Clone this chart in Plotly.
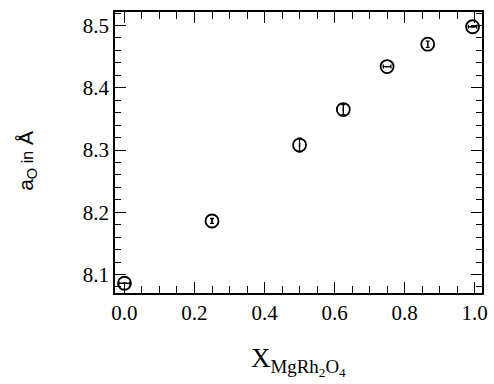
import plotly.graph_objects as go

x_mg = [0.0, 0.25, 0.5, 0.625, 0.75, 0.866, 0.994]
a0 = [8.086, 8.186, 8.308, 8.365, 8.434, 8.470, 8.498]
err_y = [0.0, 0.004, 0.011, 0.008, 0.0, 0.005, 0.0]
err_x = [0.016, 0.0, 0.0, 0.0, 0.011, 0.0, 0.012]

x_ticks = [0.0, 0.2, 0.4, 0.6, 0.8, 1.0]
x_ticktext = ["0.0", "0.2", "0.4", "0.6", "0.8", "1.0"]
y_ticks = [8.1, 8.2, 8.3, 8.4, 8.5]
y_ticktext = ["8.1", "8.2", "8.3", "8.4", "8.5"]

fig = go.Figure()
fig.add_trace(go.Scatter(
    x=x_mg, y=a0, mode="markers",
    marker=dict(symbol="circle-open", size=13, color="black", line=dict(width=1.8, color="black")),
    error_y=dict(type="data", array=err_y, visible=True, color="black", thickness=1.3, width=2),
    error_x=dict(type="data", array=err_x, visible=True, color="black", thickness=1.3, width=2),
    showlegend=False,
))

axis_common = dict(
    showline=True, linecolor="black", linewidth=1.5, mirror="allticks",
    ticks="inside", ticklen=11, tickwidth=1.2, tickcolor="black",
    showgrid=False, zeroline=False,
    tickfont=dict(family="Liberation Serif", size=21, color="black"),
)

fig.update_xaxes(
    range=[-0.027, 1.021], tickvals=x_ticks, ticktext=x_ticktext,
    minor=dict(dtick=0.05, tick0=0, ticks="inside", ticklen=7, tickwidth=1, tickcolor="black"),
    **axis_common,
)
fig.update_yaxes(
    range=[8.0703, 8.5217], tickvals=y_ticks, ticktext=y_ticktext,
    minor=dict(dtick=0.02, tick0=8.1, ticks="inside", ticklen=6, tickwidth=1, tickcolor="black"),
    **axis_common,
)

fig.add_annotation(
    text="X<sub>MgRh<sub>2</sub>O<sub>4</sub></sub>",
    xref="paper", yref="paper", x=0.5, y=-0.17, xanchor="center", yanchor="top",
    showarrow=False, font=dict(family="Liberation Serif", size=27, color="black"),
)
fig.add_annotation(
    text="a<sub>O</sub><span style='font-size:16px'> in</span> Å",
    xref="paper", yref="paper", x=-0.24, y=0.47, xanchor="center", yanchor="middle",
    textangle=-90, showarrow=False,
    font=dict(family="Liberation Sans", size=21, color="black"),
)

fig.update_layout(
    width=494, height=384,
    margin=dict(l=115, r=6, t=12, b=91),
    paper_bgcolor="white", plot_bgcolor="white",
)

fig.write_html(
    "out.html",
    config={"displayModeBar": False},
    post_script="document.body.style.margin='0';document.body.style.overflow='hidden';",
)
